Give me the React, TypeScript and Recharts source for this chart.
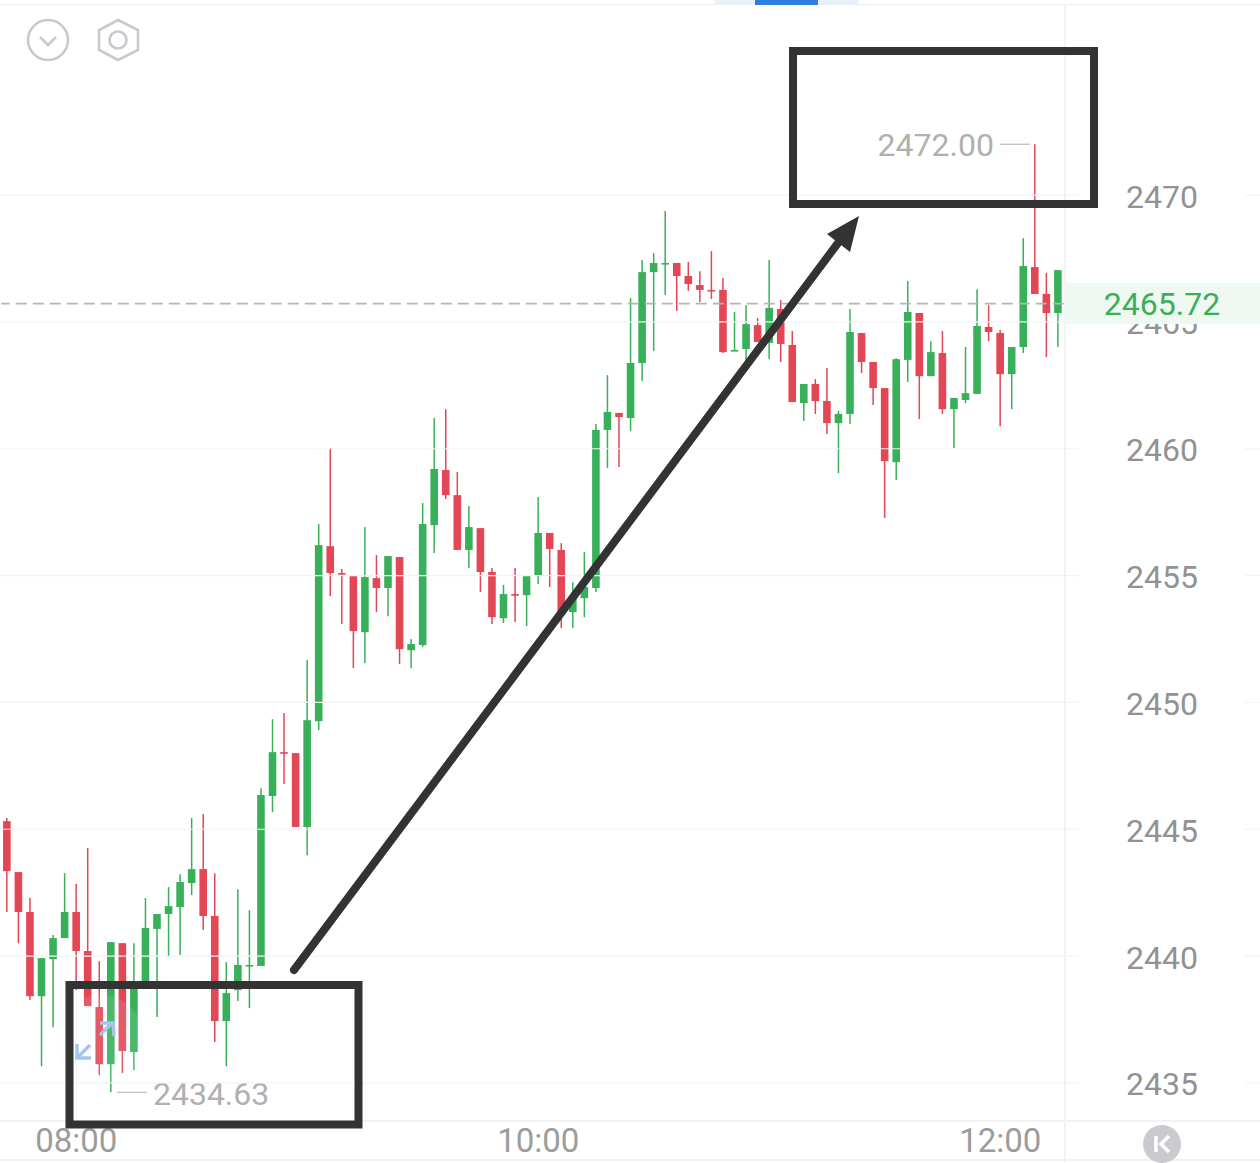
import { ComposedChart, Bar, XAxis, YAxis, ReferenceLine, ReferenceDot } from 'recharts';

const times = [
  '07:42', '07:45', '07:48', '07:51', '07:54', '07:57', '08:00', '08:03', '08:06', '08:09', '08:12', '08:15', '08:18', '08:21', '08:24', '08:27',
  '08:30', '08:33', '08:36', '08:39', '08:42', '08:45', '08:48', '08:51', '08:54', '08:57', '09:00', '09:03', '09:06', '09:09', '09:12', '09:15',
  '09:18', '09:21', '09:24', '09:27', '09:30', '09:33', '09:36', '09:39', '09:42', '09:45', '09:48', '09:51', '09:54', '09:57', '10:00', '10:03',
  '10:06', '10:09', '10:12', '10:15', '10:18', '10:21', '10:24', '10:27', '10:30', '10:33', '10:36', '10:39', '10:42', '10:45', '10:48', '10:51',
  '10:54', '10:57', '11:00', '11:03', '11:06', '11:09', '11:12', '11:15', '11:18', '11:21', '11:24', '11:27', '11:30', '11:33', '11:36', '11:39',
  '11:42', '11:45', '11:48', '11:51', '11:54', '11:57', '12:00', '12:03', '12:06', '12:09', '12:12', '12:15',
];

const opens = [
  2445.32, 2443.31, 2441.74, 2438.42, 2439.88, 2440.71, 2441.74, 2440.20, 2437.99, 2435.74, 2440.51, 2436.22, 2438.86, 2441.07, 2441.66, 2441.93,
  2442.88, 2443.43, 2441.58, 2437.44, 2438.66, 2439.62, 2439.61, 2446.31, 2448.04, 2448.00, 2445.09, 2449.26, 2456.16, 2455.10, 2454.98, 2452.77,
  2454.90, 2454.51, 2455.73, 2452.06, 2452.26, 2456.99, 2459.16, 2458.17, 2456.01, 2456.87, 2455.14, 2453.32, 2454.27, 2454.23, 2454.98, 2456.68,
  2456.01, 2453.56, 2454.11, 2454.51, 2460.74, 2461.41, 2461.21, 2463.38, 2466.96, 2467.28, 2467.32, 2466.81, 2466.45, 2466.26, 2466.26, 2463.85,
  2463.93, 2464.87, 2464.17, 2465.51, 2464.09, 2461.80, 2462.55, 2461.88, 2461.01, 2461.37, 2464.56, 2463.42, 2462.39, 2459.47, 2463.50, 2465.35,
  2462.86, 2463.77, 2461.56, 2461.92, 2462.16, 2464.80, 2464.56, 2462.94, 2464.01, 2467.16, 2466.10, 2465.35,
];

const highs = [
  2445.44, 2443.31, 2442.29, 2439.92, 2440.83, 2443.27, 2442.84, 2444.26, 2439.80, 2440.55, 2440.51, 2440.51, 2442.29, 2441.66, 2442.72, 2443.23,
  2445.44, 2445.60, 2443.27, 2439.76, 2442.64, 2441.81, 2446.62, 2449.34, 2449.58, 2448.00, 2451.67, 2457.03, 2460.03, 2455.26, 2454.98, 2456.91,
  2455.81, 2455.77, 2455.73, 2452.50, 2457.86, 2461.21, 2461.56, 2459.08, 2457.74, 2456.87, 2455.30, 2454.63, 2455.30, 2455.02, 2458.10, 2456.68,
  2456.28, 2454.74, 2455.93, 2460.97, 2462.90, 2461.41, 2465.94, 2467.44, 2467.71, 2469.37, 2467.32, 2467.36, 2467.00, 2467.79, 2466.73, 2465.39,
  2465.66, 2465.15, 2467.44, 2465.86, 2464.64, 2462.55, 2462.75, 2463.18, 2461.49, 2465.51, 2464.56, 2463.42, 2462.39, 2463.57, 2466.61, 2465.35,
  2464.24, 2464.64, 2462.00, 2464.01, 2466.29, 2465.66, 2464.68, 2464.01, 2468.30, 2472.00, 2466.93, 2467.04,
];

const lows = [
  2441.74, 2440.51, 2438.27, 2435.66, 2437.20, 2440.71, 2438.66, 2438.03, 2435.31, 2434.63, 2435.39, 2435.51, 2438.86, 2437.60, 2440.00, 2440.04,
  2442.41, 2441.03, 2436.61, 2435.66, 2438.23, 2437.95, 2439.61, 2445.68, 2446.78, 2445.09, 2443.98, 2448.91, 2454.19, 2453.09, 2451.35, 2451.55,
  2453.56, 2453.40, 2451.51, 2451.35, 2452.18, 2455.89, 2458.02, 2456.01, 2455.30, 2454.35, 2453.09, 2453.13, 2453.17, 2453.01, 2454.67, 2454.55,
  2452.93, 2452.93, 2453.36, 2454.35, 2459.24, 2459.28, 2460.70, 2462.67, 2463.85, 2466.06, 2465.43, 2466.22, 2465.78, 2465.90, 2463.77, 2463.85,
  2463.50, 2464.21, 2463.53, 2463.42, 2461.84, 2461.09, 2461.37, 2460.58, 2459.04, 2460.97, 2462.98, 2461.72, 2457.27, 2458.77, 2462.63, 2461.17,
  2462.86, 2461.37, 2460.03, 2461.80, 2462.16, 2464.24, 2460.89, 2461.56, 2463.77, 2466.10, 2463.61, 2464.01,
];

const closes = [
  2443.35, 2441.74, 2438.42, 2439.92, 2440.71, 2441.74, 2440.20, 2438.03, 2435.74, 2440.55, 2436.26, 2438.86, 2441.11, 2441.66, 2441.97, 2442.92,
  2443.43, 2441.58, 2437.44, 2438.54, 2439.65, 2439.65, 2446.35, 2448.04, 2448.00, 2445.09, 2449.30, 2456.20, 2455.10, 2455.06, 2452.81, 2454.94,
  2454.51, 2455.77, 2452.10, 2452.30, 2457.03, 2459.20, 2458.17, 2456.01, 2456.91, 2455.14, 2453.36, 2454.27, 2454.23, 2455.02, 2456.68, 2456.05,
  2453.56, 2454.15, 2454.55, 2460.74, 2461.45, 2461.25, 2463.38, 2466.96, 2467.32, 2467.32, 2466.81, 2466.49, 2466.26, 2466.22, 2463.81, 2463.89,
  2464.91, 2464.21, 2465.55, 2464.13, 2461.84, 2462.55, 2461.88, 2461.01, 2461.37, 2464.60, 2463.42, 2462.39, 2459.51, 2463.53, 2465.39, 2462.86,
  2463.81, 2461.56, 2462.00, 2462.19, 2464.84, 2464.60, 2462.94, 2464.01, 2467.20, 2466.10, 2465.35, 2467.04,
];

const priceTicks = [2435, 2440, 2445, 2450, 2455, 2460, 2465, 2470];
const timeTicks = ['08:00', '10:00', '12:00'];
const lastPrice = 2465.72;
const highPrice = 2472.0;
const lowPrice = 2434.63;
const highTime = '12:09';
const lowTime = '08:09';

const rows = times.map((time, i) => ({
  time,
  open: opens[i],
  high: highs[i],
  low: lows[i],
  close: closes[i],
}));

const GREEN = '#38b05a';
const RED = '#e34655';
const FONT = 'Roboto, sans-serif';
const BODY = 7.6;

function Candle(props: any) {
  const { x, y, width, height, payload } = props;
  const { open, high, low, close } = payload;
  const up = close >= open;
  const color = up ? GREEN : RED;
  const toY = (v: number) => y + ((high - v) / (high - low)) * height;
  const top = toY(Math.max(open, close));
  const bottom = toY(Math.min(open, close));
  const mid = x + width / 2;
  return (
    <g>
      <line x1={mid} x2={mid} y1={y} y2={y + height} stroke={color} strokeWidth={1.5} />
      <rect x={mid - BODY / 2} y={top} width={BODY} height={Math.max(bottom - top, 1.6)} fill={color} />
    </g>
  );
}

function PriceTick(props: any) {
  const { y, payload } = props;
  return (
    <g>
      <line x1={0} x2={1079} y1={y} y2={y} stroke="#f2f3f5" strokeWidth={1.2} />
      <line x1={1245} x2={1260} y1={y} y2={y} stroke="#f2f3f5" strokeWidth={1.2} />
      <text x={1162} y={y + 12.5} textAnchor="middle" fontSize={32} fontFamily={FONT} fill="#929292">
        {payload.value}
      </text>
    </g>
  );
}

function TimeTick(props: any) {
  const { x, payload } = props;
  return (
    <text x={x} y={1152} textAnchor="middle" fontSize={33} fontFamily={FONT} fill="#9c9c9c">
      {payload.value}
    </text>
  );
}

function HighLabel(props: any) {
  const { cx, cy } = props;
  return (
    <g>
      <line x1={cx - 35} x2={cx - 5} y1={cy} y2={cy} stroke="#c4c4c4" strokeWidth={1.4} />
      <text x={cx - 41} y={cy + 12} textAnchor="end" fontSize={32} fontFamily={FONT} fill="#b0b0b0">
        {highPrice.toFixed(2)}
      </text>
    </g>
  );
}

function LowLabel(props: any) {
  const { cx, cy } = props;
  return (
    <g>
      <line x1={cx + 6} x2={cx + 36} y1={cy} y2={cy} stroke="#c4c4c4" strokeWidth={1.4} />
      <text x={cx + 42} y={cy + 13} textAnchor="start" fontSize={32} fontFamily={FONT} fill="#b0b0b0">
        {lowPrice.toFixed(2)}
      </text>
    </g>
  );
}

// screen furniture and the hand-drawn boxes and arrow, on top of the chart
function Overlay() {
  return (
    <svg width={1260} height={1163} style={{ position: 'absolute', left: 0, top: 0 }}>
      <rect x={1065} y={283} width={195} height={41} fill="#eff8f1" />
      <text x={1162} y={315} textAnchor="middle" fontSize={32} fontFamily={FONT} fill={GREEN}>
        {lastPrice.toFixed(2)}
      </text>

      <circle cx={48} cy={40} r={20} fill="none" stroke="#c6cacf" strokeWidth={2.6} />
      <path d="M40 37 L48 45 L56 37" fill="none" stroke="#c6cacf" strokeWidth={2.6} />
      <path d="M118 20 L138 30 L138 50 L118 60 L99 50 L99 30 Z" fill="none" stroke="#c6cacf" strokeWidth={2.6} />
      <circle cx={118} cy={40} r={8.5} fill="none" stroke="#c6cacf" strokeWidth={2.6} />

      <circle cx={100} cy={1040} r={45} fill="#e8effc" opacity={0.12} />
      <path d="M100 1035 L112 1023 M100 1023 L113 1023 L114 1036" fill="none" stroke="#a9c4ea" strokeWidth={3.5} />
      <path d="M90 1045 L78 1057 M77 1044 L77 1058 L91 1058" fill="none" stroke="#a9c4ea" strokeWidth={3.5} />

      <rect x={69.5} y={985} width={289} height={139.5} fill="none" stroke="#333333" strokeWidth={8} />
      <rect x={793} y={51} width={301} height={153} fill="none" stroke="#333333" strokeWidth={8} />
      <line x1={294} y1={970} x2={838} y2={243} stroke="#333333" strokeWidth={8} strokeLinecap="round" />
      <path d="M859 216 L827 234 L850 252 Z" fill="#333333" />

      <circle cx={1162} cy={1144} r={19} fill="#c9cbce" />
      <path d="M1156 1136 L1156 1152" stroke="#ffffff" strokeWidth={3.5} fill="none" />
      <path d="M1169 1136 L1161 1144 L1169 1152" stroke="#ffffff" strokeWidth={3.5} fill="none" />
    </svg>
  );
}

export default function App() {
  return (
    <div style={{ position: 'absolute', left: 0, top: 0, width: 1260, height: 1163, background: '#ffffff', overflow: 'hidden' }}>
      <div style={{ position: 'absolute', left: 0, top: 4, width: 1260, height: 1, background: '#eeeff1' }} />
      <div style={{ position: 'absolute', left: 0, top: 1120, width: 1260, height: 1.5, background: '#f0f1f3' }} />
      <div style={{ position: 'absolute', left: 0, top: 1159, width: 1260, height: 1.5, background: '#f0f1f3' }} />
      <div style={{ position: 'absolute', left: 1064, top: 4, width: 1.5, height: 1159, background: '#f2f3f5' }} />
      <div style={{ position: 'absolute', left: 715, top: 0, width: 143, height: 5, background: '#e9f1fc' }} />
      <div style={{ position: 'absolute', left: 755, top: 0, width: 63, height: 5, background: '#2f7de1' }} />
      <ComposedChart
        width={1260}
        height={1163}
        data={rows}
        margin={{ top: 4, right: 0, bottom: 0, left: 1.2 }}
        style={{ position: 'absolute', left: 0, top: 0 }}
      >
        <XAxis
          dataKey="time"
          height={43}
          ticks={timeTicks}
          interval={0}
          tickLine={false}
          axisLine={false}
          tick={TimeTick}
        />
        <YAxis
          orientation="right"
          width={196.2}
          domain={[2433.54, 2477.53]}
          ticks={priceTicks}
          interval={0}
          allowDataOverflow
          tickLine={false}
          axisLine={false}
          tick={PriceTick}
        />
        <ReferenceLine y={lastPrice} stroke="#b4b4b4" strokeWidth={1.6} strokeDasharray="11 6" />
        <Bar dataKey={(d: any) => [d.low, d.high]} shape={Candle} isAnimationActive={false} />
        <ReferenceDot x={highTime} y={highPrice} shape={HighLabel} />
        <ReferenceDot x={lowTime} y={lowPrice} shape={LowLabel} />
      </ComposedChart>
      <Overlay />
    </div>
  );
}
